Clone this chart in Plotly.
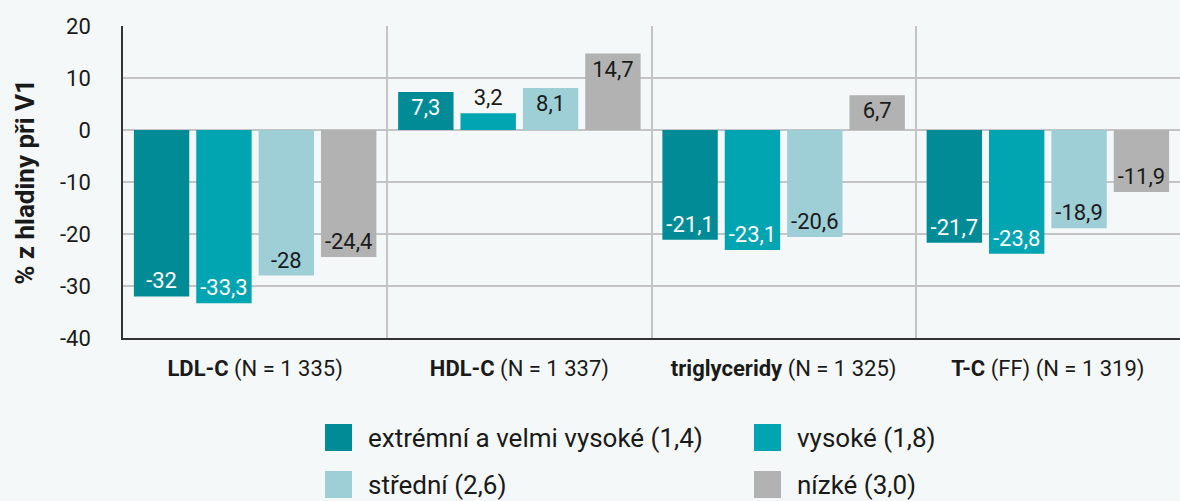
import plotly.graph_objects as go

categories = ["<b>LDL-C</b> (N = 1 335)", "<b>HDL-C</b> (N = 1 337)",
              "<b>triglyceridy</b> (N = 1 325)", "<b>T-C</b> (FF) (N = 1 319)"]
series_names = ["extrémní a velmi vysoké (1,4)", "vysoké (1,8)", "střední (2,6)", "nízké (3,0)"]
extremni = [-32, 7.3, -21.1, -21.7]
vysoke = [-33.3, 3.2, -23.1, -23.8]
stredni = [-28, 8.1, -20.6, -18.9]
nizke = [-24.4, 14.7, 6.7, -11.9]
y_ticks = [-40, -30, -20, -10, 0, 10, 20]

colors = ["#008B96", "#00A5B1", "#9ECFD6", "#B2B2B2"]
inside_colors = ["white", "white", "#1a1a1a", "#1a1a1a"]
FONT = "Roboto"

W, H = 1180, 501
L, R, T, B = 123, 0, 26, 163
PW, PH = W - L - R, H - T - B


def px2x(px):
    return (px - L) / PW


def px2y(py):
    return (H - B - py) / PH


def fmt(v):
    return f"{v:g}".replace(".", ",")


fig = go.Figure()
for name, vals, c, ic in zip(series_names, [extremni, vysoke, stredni, nizke], colors, inside_colors):
    fig.add_trace(go.Bar(
        x=categories, y=vals, name=name, marker_color=c, marker_line_width=0,
        text=[fmt(v) for v in vals], textposition="auto", insidetextanchor="end",
        insidetextfont=dict(color=ic, size=22, family=FONT),
        outsidetextfont=dict(color="#1a1a1a", size=22, family=FONT),
        textangle=0, cliponaxis=False, showlegend=False,
    ))

# legend drawn as swatches + text
shapes = []
annotations = []
leg_pos = [(325, 424), (754, 424), (325, 471), (754, 471)]
for (lx, ly), name, c in zip(leg_pos, series_names, colors):
    shapes.append(dict(type="rect", xref="paper", yref="paper",
                       x0=px2x(lx), x1=px2x(lx + 27), y0=px2y(ly + 27), y1=px2y(ly),
                       fillcolor=c, line_width=0))
    annotations.append(dict(xref="paper", yref="paper", x=px2x(lx + 41), y=px2y(ly + 14),
                            text=name, showarrow=False, xanchor="left", yanchor="middle",
                            font=dict(size=26, color="#1a1a1a", family=FONT)))

fig.update_layout(
    width=W, height=H,
    margin=dict(l=L, r=R, t=T, b=B),
    paper_bgcolor="#F5F8F8", plot_bgcolor="#F5F8F8",
    barmode="group", bargap=0.056, bargroupgap=0.112,
    font=dict(family=FONT, color="#1a1a1a"),
    shapes=shapes, annotations=annotations,
    xaxis=dict(type="category", tickson="boundaries", showgrid=True, gridcolor="#C4C4C4",
               gridwidth=1.5, showline=True, linecolor="#333333", linewidth=1.5,
               ticks="", tickfont=dict(size=22, family=FONT, color="#1a1a1a"),
               ticklabelstandoff=10),
    yaxis=dict(range=[-40, 20], tickvals=y_ticks, ticktext=[str(v) for v in y_ticks],
               showgrid=True, gridcolor="#C4C4C4", gridwidth=1.5, zeroline=False,
               showline=True, linecolor="#333333", linewidth=1.5, ticks="",
               tickfont=dict(size=22, family=FONT, color="#1a1a1a"), ticklabelstandoff=26,
               title=dict(text="<b>% z hladiny při V1</b>", font=dict(size=26, family=FONT),
                          standoff=18)),
)

fig.write_html("out.html", config={"displayModeBar": False},
               post_script="document.body.style.margin='0';document.body.style.background='#F5F8F8';")
